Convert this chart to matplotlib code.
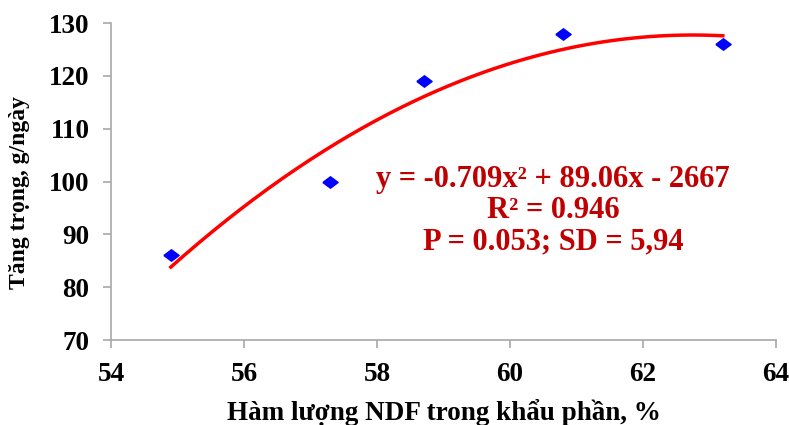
"""Tăng trọng theo hàm lượng NDF trong khẩu phần"""

import matplotlib.pyplot as plt
import numpy as np

ndf = np.array([54.9, 57.3, 58.7, 60.8, 63.2])
gain = np.array([86.0, 100.0, 119.0, 128.0, 126.0])

eq_lines = ["y = -0.709x² + 89.06x - 2667", "R² = 0.946", "P = 0.053; SD = 5,94"]

plt.rcParams["font.family"] = ["Liberation Serif", "DejaVu Serif"]
plt.rcParams["font.weight"] = "bold"

fig = plt.figure(figsize=(7.89, 4.25), dpi=100)
ax = fig.add_axes([111 / 789, 1 - 340 / 425, (776 - 111) / 789, (340 - 23) / 425])

# quadratic trendline fitted to the points (as in the Excel chart)
coef = np.polyfit(ndf, gain, 2)
xs = np.linspace(ndf.min(), ndf.max(), 200)
ax.plot(xs, np.polyval(coef, xs), color="#ff0000", lw=2.5, zorder=2)

# slightly flattened diamond, like the original
diamond = [(-1, 0), (0, 0.75), (1, 0), (0, -0.75), (-1, 0)]
ax.plot(ndf, gain, linestyle="none", marker=diamond, color="#0000ff", ms=11, mec="#0000ff", zorder=3)

ax.set_xlim(54, 64)
ax.set_ylim(70, 130)
ax.set_xticks(np.arange(54, 65, 2))
ax.set_yticks(np.arange(70, 131, 10))
ax.tick_params(colors="#a8a8a8", labelcolor="black", labelsize=19.5, length=5.5, width=1.2)
ax.tick_params(axis="x", pad=10)
ax.tick_params(axis="y", pad=10)
for s in ["top", "right"]:
    ax.spines[s].set_visible(False)
for s in ["left", "bottom"]:
    ax.spines[s].set_color("#a8a8a8")
    ax.spines[s].set_linewidth(1.2)

ax.set_xlabel("Hàm lượng NDF trong khẩu phần, %", fontsize=19.5, fontweight="bold")
ax.set_ylabel("Tăng trọng, g/ngày", fontsize=17, fontweight="bold")
ax.xaxis.set_label_coords(0.5, -0.185)
ax.yaxis.set_label_coords(-0.122, 0.465)

for i, line in enumerate(eq_lines):
    ax.text(60.65, 98.9 - i * 5.85, line, color="#c00000",
            fontsize=22, fontweight="bold", ha="center", va="baseline")

fig.savefig("out.png", dpi=100)
